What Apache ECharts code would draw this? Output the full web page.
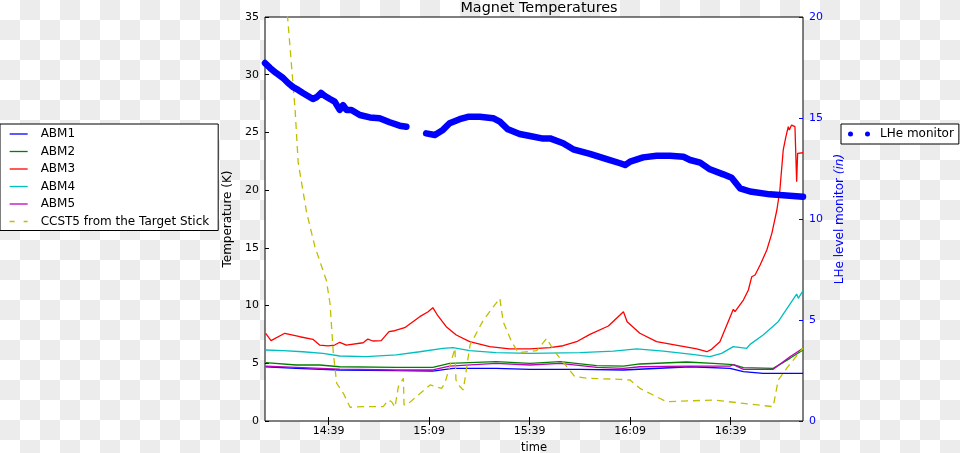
<!DOCTYPE html>
<html>
<head>
<meta charset="utf-8">
<script src="https://cdn.jsdelivr.net/npm/echarts@6/dist/echarts.min.js"></script>
<style>
  html, body { margin: 0; padding: 0; }
  body {
    width: 960px; height: 453px;
    background: repeating-conic-gradient(#ececec 0% 25%, #ffffff 0% 50%) 0 0 / 40px 40px;
  }
  #chart { width: 960px; height: 453px; }
</style>
</head>
<body>
<div id="chart"></div>
<script>
// ---- data (time = minutes after 14:00) ----
const tickMinutes = [39, 69, 99, 129, 159];
const tickLabels = ['14:39', '15:09', '15:39', '16:09', '16:39'];
const leftTicks = [0, 5, 10, 15, 20, 25, 30, 35];
const rightTicks = [0, 5, 10, 15, 20];

const abm1Time = [20.2, 29.3, 42.3, 59.2, 70.1, 76.1, 89.0, 99.1, 114.0, 127.0, 146.9, 158.8, 162.8, 168.7, 180.6];
const abm1Temp = [4.70, 4.56, 4.42, 4.36, 4.33, 4.56, 4.56, 4.48, 4.48, 4.42, 4.70, 4.56, 4.27, 4.13, 4.13];

const abm2Time = [20.2, 29.3, 36.3, 42.3, 59.2, 70.1, 75.1, 89.0, 99.1, 108.1, 119.0, 127.0, 131.9, 145.9, 153.8, 159.8, 162.8, 171.7, 176.7, 180.6];
const abm2Temp = [5.05, 4.85, 4.85, 4.70, 4.65, 4.65, 5.00, 5.14, 5.00, 5.14, 4.79, 4.76, 4.94, 5.11, 5.00, 4.88, 4.62, 4.56, 5.43, 6.15];

const abm3Time = [20.2, 21.8, 25.9, 30.4, 34.3, 36.3, 38.8, 40.8, 42.3, 44.3, 49.3, 50.7, 52.2, 54.7, 57.0, 58.7, 61.7, 66.2, 68.7, 70.1, 71.6, 74.1, 77.1, 81.1, 87.1, 93.0, 99.1, 105.1, 109.0, 113.0, 117.0, 122.5, 127.0, 128.1, 131.9, 136.9, 143.9, 148.9, 151.9, 153.3, 155.8, 159.8, 160.3, 162.8, 164.3, 165.3, 166.3, 167.8, 169.8, 171.3, 172.8, 173.7, 174.7, 175.5, 176.2, 176.5, 177.2, 178.2, 178.7, 179.0, 180.6];
const abm3Temp = [7.60, 6.96, 7.60, 7.30, 7.08, 6.58, 6.50, 6.58, 6.82, 6.58, 6.78, 7.10, 6.93, 6.96, 7.74, 7.82, 8.08, 9.04, 9.47, 9.82, 9.12, 8.17, 7.45, 6.87, 6.44, 6.24, 6.24, 6.35, 6.52, 6.87, 7.51, 8.23, 9.47, 8.60, 7.60, 6.87, 6.50, 6.24, 6.00, 6.21, 6.87, 9.68, 9.47, 10.48, 11.35, 12.50, 12.65, 13.51, 14.81, 16.26, 18.28, 20.01, 23.48, 24.63, 25.50, 25.21, 25.64, 25.50, 20.73, 23.19, 23.24];

const abm4Time = [20.2, 25.4, 31.3, 37.3, 42.3, 50.2, 59.2, 66.2, 73.1, 76.1, 81.1, 89.0, 99.1, 114.0, 124.0, 131.0, 138.9, 146.9, 152.8, 156.3, 159.8, 163.8, 164.8, 168.7, 173.2, 176.2, 178.7, 179.2, 180.6];
const abm4Temp = [6.15, 6.09, 6.00, 5.86, 5.63, 5.57, 5.72, 6.00, 6.30, 6.35, 6.09, 5.92, 5.86, 5.92, 6.06, 6.24, 6.06, 5.80, 5.57, 5.86, 6.44, 6.30, 6.64, 7.45, 8.60, 9.90, 11.00, 10.63, 11.29];

const abm5Time = [20.2, 29.3, 42.3, 59.2, 70.1, 75.1, 89.0, 99.1, 108.1, 119.0, 127.0, 131.9, 146.9, 158.8, 159.8, 162.8, 171.7, 176.7, 180.6];
const abm5Temp = [4.76, 4.65, 4.50, 4.42, 4.42, 4.76, 5.00, 4.85, 5.00, 4.65, 4.56, 4.70, 4.76, 4.76, 4.88, 4.48, 4.48, 5.57, 6.30];

const ccst5Time = [26.1, 29.0, 29.9, 32.4, 34.9, 38.3, 39.4, 40.4, 41.4, 43.4, 45.4, 49.3, 55.3, 56.8, 57.8, 58.8, 59.8, 61.3, 61.5, 62.3, 69.3, 72.7, 73.7, 76.7, 77.0, 78.2, 79.2, 81.2, 85.2, 90.1, 91.1, 93.6, 95.6, 101.1, 104.1, 106.1, 112.5, 116.5, 126.0, 129.0, 131.9, 136.9, 139.9, 153.8, 162.8, 171.7, 173.2, 175.7, 179.7, 180.6];
const ccst5Temp = [37.3, 26.9, 22.4, 18.1, 15.1, 12.2, 10.2, 5.86, 3.27, 2.40, 1.19, 1.24, 1.24, 1.82, 1.67, 1.19, 2.97, 3.70, 1.39, 1.39, 3.12, 2.83, 3.27, 6.30, 3.55, 2.97, 2.69, 6.58, 8.75, 10.63, 8.60, 6.87, 5.92, 6.09, 7.16, 6.15, 3.84, 3.70, 3.61, 3.55, 2.83, 2.10, 1.67, 1.82, 1.53, 1.24, 3.55, 4.56, 6.00, 6.30];

// LHe level (in); null marks the gap in the record
const lheTime = [20.0, 21.5, 23.3, 25.4, 26.9, 28.4, 29.9, 31.3, 32.8, 34.3, 35.5, 36.7, 37.9, 39.4, 40.8, 42.3, 43.3, 44.3, 45.8, 48.3, 51.3, 54.2, 57.2, 60.2, 62.2, 65.0, 68.1, 70.7, 73.1, 75.1, 78.1, 80.6, 84.1, 88.1, 90.1, 92.5, 96.0, 99.1, 103.0, 105.1, 109.0, 112.0, 117.0, 122.0, 126.0, 127.5, 129.0, 132.9, 136.9, 140.9, 144.9, 146.9, 149.9, 152.8, 156.8, 159.3, 161.8, 164.8, 170.7, 180.6];
const lheLevel = [17.72, 17.48, 17.23, 16.98, 16.73, 16.53, 16.39, 16.24, 16.09, 15.94, 16.04, 16.24, 16.09, 15.94, 15.81, 15.40, 15.64, 15.40, 15.40, 15.15, 15.03, 14.99, 14.79, 14.62, 14.57, null, 14.24, 14.16, 14.41, 14.74, 14.94, 15.06, 15.06, 14.99, 14.82, 14.44, 14.21, 14.11, 13.98, 13.99, 13.75, 13.45, 13.22, 12.96, 12.76, 12.67, 12.84, 13.05, 13.13, 13.13, 13.08, 12.92, 12.79, 12.46, 12.21, 12.04, 11.52, 11.36, 11.22, 11.10];

// ---- chart ----
const zip = (a, b) => a.map((v, i) => [v, b[i]]);
const FONT = 'DejaVu Sans';
const tickFmt = v => {
  const i = tickMinutes.indexOf(Math.round(v));
  return i >= 0 ? tickLabels[i] : '';
};

const chart = echarts.init(document.getElementById('chart'), null, { renderer: 'canvas' });

function lineSeries(name, t, v, color, extra) {
  return Object.assign({
    name, type: 'line', data: zip(t, v),
    xAxisIndex: 0, yAxisIndex: 0,
    showSymbol: false, symbol: 'none',
    lineStyle: { color, width: 1.3 },
    itemStyle: { color },
    emphasis: { disabled: true },
    clip: true
  }, extra || {});
}

chart.setOption({
  animation: false,
  backgroundColor: 'transparent',
  textStyle: { fontFamily: FONT },
  title: {
    text: 'Magnet Temperatures',
    left: 534, top: -4, textAlign: 'center',
    textStyle: { fontFamily: FONT, fontSize: 14.4, fontWeight: 'normal', color: '#000' }
  },
  grid: {
    left: 265, right: 157, top: 17, bottom: 32,
    containLabel: false, outerBoundsMode: 'none',
    show: true, backgroundColor: '#ffffff', borderColor: '#000', borderWidth: 1
  },
  legend: [
    {
      data: [
        { name: 'ABM1' }, { name: 'ABM2' }, { name: 'ABM3' }, { name: 'ABM4' }, { name: 'ABM5' },
        { name: 'CCST5 from the Target Stick', lineStyle: { type: [5, 9] } }
      ],
      orient: 'vertical', left: 0, top: 124,
      padding: [4, 9, 3, 9],
      itemWidth: 18, itemHeight: 12, itemGap: 5.5,
      itemStyle: { color: 'transparent', borderWidth: 0, opacity: 0 },
      lineStyle: { width: 1.3 },
      backgroundColor: '#ffffff', borderColor: '#000', borderWidth: 1, borderRadius: 0,
      textStyle: { fontFamily: FONT, fontSize: 12, color: '#000', lineHeight: 12, padding: [0, 0, 0, 8] },
      selectedMode: false
    },
    {
      data: [{
        name: 'LHe monitor',
        icon: 'path://M0,2.5a2.5,2.5 0 1,0 5,0a2.5,2.5 0 1,0 -5,0zM17,2.5a2.5,2.5 0 1,0 5,0a2.5,2.5 0 1,0 -5,0z'
      }],
      orient: 'vertical', left: 841, top: 124,
      padding: [4, 5, 4, 7],
      itemWidth: 22, itemHeight: 5,
      backgroundColor: '#ffffff', borderColor: '#000', borderWidth: 1, borderRadius: 0,
      textStyle: { fontFamily: FONT, fontSize: 12, color: '#000', lineHeight: 12, padding: [0, 0, 0, 5] },
      selectedMode: false
    }
  ],
  xAxis: [
    {
      type: 'value', min: 20, max: 180.6, position: 'bottom',
      name: 'time', nameLocation: 'middle', nameGap: 21,
      nameTextStyle: { fontFamily: FONT, fontSize: 11.5, color: '#000' },
      axisLine: { show: false },
      axisTick: { show: true, inside: true, length: 4, customValues: tickMinutes, lineStyle: { color: '#000' } },
      axisLabel: { show: true, customValues: tickMinutes, formatter: tickFmt, margin: 5,
                   fontFamily: FONT, fontSize: 11, color: '#000' },
      splitLine: { show: false }
    },
    {
      type: 'value', min: 20, max: 180.6, position: 'top',
      axisLine: { show: false },
      axisTick: { show: true, inside: true, length: 4, customValues: tickMinutes, lineStyle: { color: '#000' } },
      axisLabel: { show: false },
      splitLine: { show: false }
    }
  ],
  yAxis: [
    {
      type: 'value', min: 0, max: 35, interval: 5, position: 'left',
      name: 'Temperature (K)', nameLocation: 'middle', nameGap: 23, nameRotate: 90,
      nameTextStyle: { fontFamily: FONT, fontSize: 12, color: '#000' },
      axisLine: { show: false },
      axisTick: { show: true, inside: true, length: 4, lineStyle: { color: '#000' } },
      axisLabel: { margin: 6, fontFamily: FONT, fontSize: 11, color: '#000' },
      splitLine: { show: false }
    },
    {
      type: 'value', min: 0, max: 20, interval: 5, position: 'right',
      name: '{a|LHe level monitor }{b|(in)}', nameLocation: 'middle', nameGap: 23, nameRotate: 90,
      nameTextStyle: {
        fontFamily: FONT, fontSize: 12, color: '#0000ff',
        rich: {
          a: { fontFamily: FONT, fontSize: 12, color: '#0000ff' },
          b: { fontFamily: FONT, fontSize: 12, color: '#0000ff', fontStyle: 'italic' }
        }
      },
      axisLine: { show: false },
      axisTick: { show: true, inside: true, length: 4, lineStyle: { color: '#0000ff' } },
      axisLabel: { margin: 6, fontFamily: FONT, fontSize: 11, color: '#0000ff' },
      splitLine: { show: false }
    }
  ],
  series: [
    lineSeries('ABM1', abm1Time, abm1Temp, '#0000ff'),
    lineSeries('ABM2', abm2Time, abm2Temp, '#008000'),
    lineSeries('ABM3', abm3Time, abm3Temp, '#ff0000'),
    lineSeries('ABM4', abm4Time, abm4Temp, '#00bfbf'),
    lineSeries('ABM5', abm5Time, abm5Temp, '#bf00bf'),
    lineSeries('CCST5 from the Target Stick', ccst5Time, ccst5Temp, '#bfbf00',
      { lineStyle: { color: '#bfbf00', width: 1.3, type: [7, 5] } }),
    lineSeries('LHe monitor', lheTime, lheLevel, '#0000ff',
      { yAxisIndex: 1, connectNulls: false, z: 3,
        lineStyle: { color: '#0000ff', width: 6.5, cap: 'round', join: 'round' } })
  ]
});
</script>
</body>
</html>
